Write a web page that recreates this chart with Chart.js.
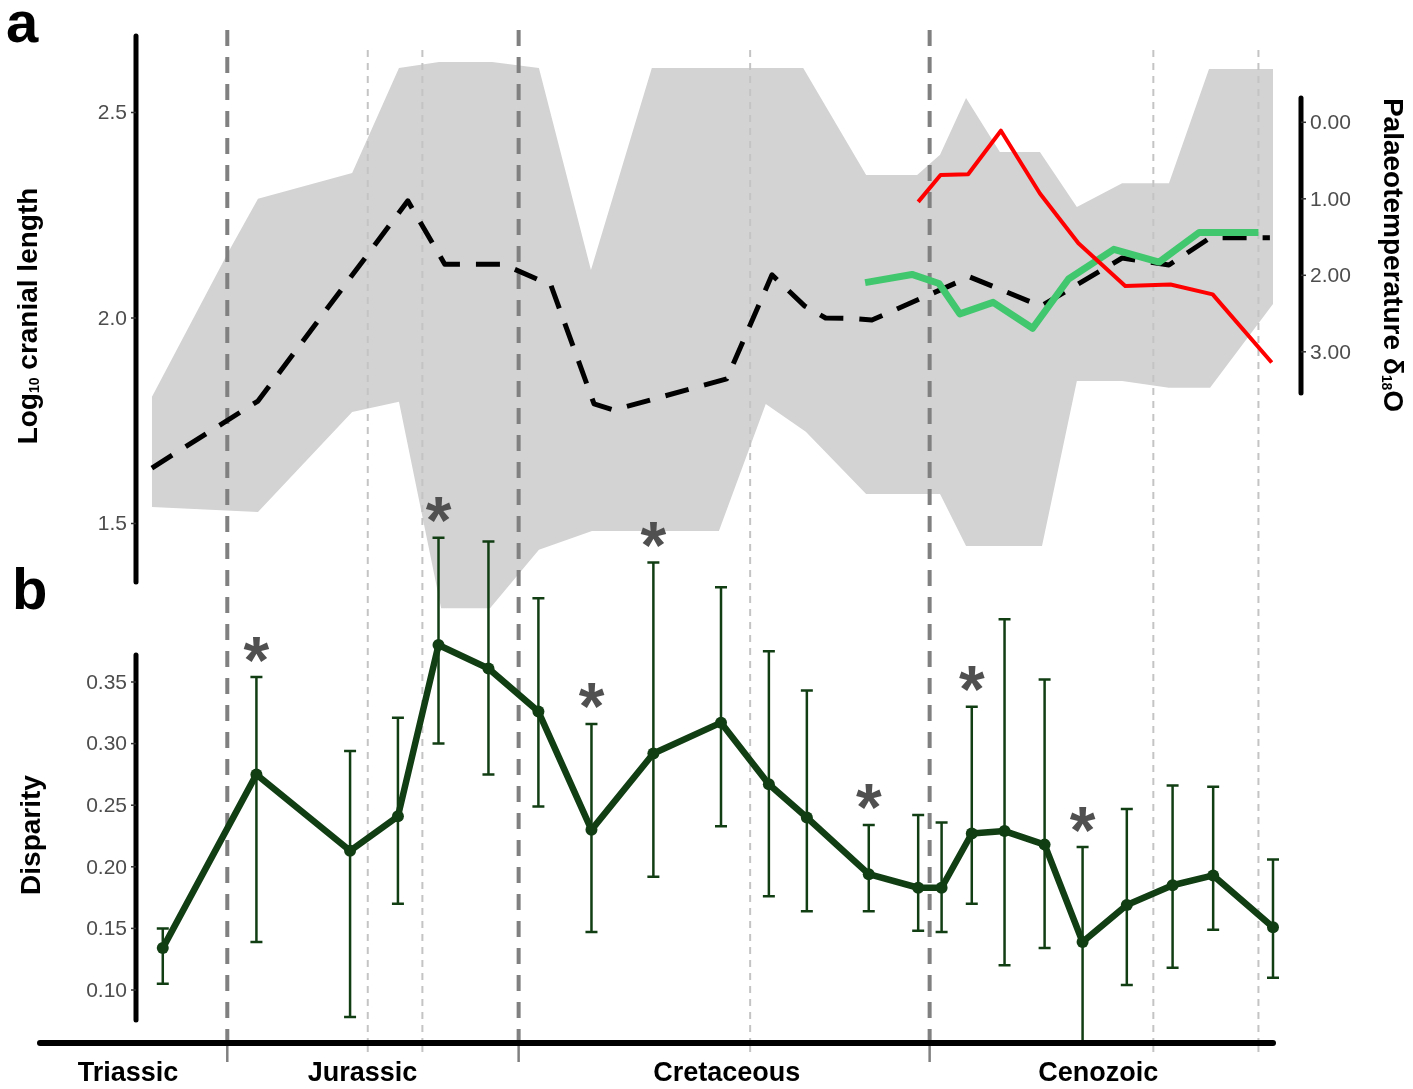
<!DOCTYPE html>
<html>
<head>
<meta charset="utf-8">
<title>Cranial length, palaeotemperature and disparity through time</title>
<script src="https://cdn.jsdelivr.net/npm/chart.js@4.4.1/dist/chart.umd.min.js"></script>
<style>
  html, body { margin: 0; padding: 0; background: #fff; }
  #wrap { width: 1413px; height: 1089px; }
</style>
</head>
<body>
<div id="wrap"><canvas id="fig" width="1413" height="1089"></canvas></div>
<script>
// ---- data, ages in Ma ----

// panel a: grey envelope of log10 cranial length
const bandUpperAge = [215.5, 200.9, 195.1, 177.0, 168.0, 160.3, 150.1, 141.1, 131.1, 119.4, 90.3, 78.2, 68.4, 64.0, 59.0, 52.5, 44.8, 37.7, 29.0, 20.0, 12.3, 0];
const bandUpperLen = [1.808, 2.158, 2.290, 2.353, 2.608, 2.623, 2.623, 2.608, 2.117, 2.608, 2.608, 2.348, 2.348, 2.397, 2.535, 2.404, 2.404, 2.270, 2.328, 2.328, 2.606, 2.606];
const bandLowerAge = [215.5, 195.1, 177.0, 168.0, 159.9, 150.5, 141.1, 130.9, 106.5, 97.5, 89.8, 78.2, 64.0, 59.0, 44.4, 37.7, 29.0, 20.0, 12.1, 0];
const bandLowerLen = [1.540, 1.528, 1.771, 1.796, 1.294, 1.294, 1.436, 1.482, 1.482, 1.791, 1.723, 1.572, 1.572, 1.445, 1.445, 1.847, 1.847, 1.830, 1.830, 2.034];

// panel a: mean cranial length (black dashed)
const meanAge = [215.5, 195.1, 166.3, 159.2, 148.0, 138.8, 130.5, 126.7, 105.0, 96.3, 90.0, 86.0, 81.2, 77.1, 58.3, 44.6, 29.0, 20.0, 12.1, 0.6];
const meanLen = [1.635, 1.798, 2.285, 2.131, 2.131, 2.080, 1.791, 1.776, 1.852, 2.105, 2.029, 2.000, 1.999, 1.995, 2.100, 2.029, 2.146, 2.129, 2.195, 2.195];

// panel a: Cenozoic subset (green)
const subsetAge = [78.4, 69.4, 64.2, 60.2, 53.8, 46.2, 39.3, 30.6, 21.9, 14.2, 2.8];
const subsetLen = [2.086, 2.106, 2.084, 2.010, 2.038, 1.975, 2.095, 2.167, 2.136, 2.208, 2.208];

// panel a: palaeotemperature d18O (red, right axis)
const tempAge = [68.2, 63.9, 58.6, 52.3, 44.8, 37.4, 28.4, 19.7, 11.6, 0.25];
const tempD18O = [1.04, 0.69, 0.68, 0.11, 0.93, 1.58, 2.14, 2.12, 2.25, 3.14];

// panel b: disparity with error bars, * = significant
const dispAge  = [213.4, 195.4, 177.4, 168.2, 160.4, 150.8, 141.2, 131.0, 119.1, 106.1, 96.9, 89.6, 77.7, 68.2, 63.7, 57.9, 51.6, 43.9, 36.6, 28.1, 19.3, 11.5, 0.0];
const dispMean = [0.134, 0.275, 0.213, 0.241, 0.380, 0.361, 0.326, 0.230, 0.292, 0.317, 0.267, 0.240, 0.194, 0.183, 0.183, 0.227, 0.229, 0.218, 0.139, 0.169, 0.185, 0.193, 0.151];
const dispLow  = [0.105, 0.139, 0.078, 0.170, 0.300, 0.275, 0.249, 0.147, 0.192, 0.233, 0.176, 0.164, 0.164, 0.148, 0.147, 0.170, 0.120, 0.134, 0.055, 0.104, 0.118, 0.149, 0.110];
const dispHigh = [0.150, 0.354, 0.294, 0.321, 0.467, 0.464, 0.418, 0.316, 0.447, 0.427, 0.375, 0.343, 0.234, 0.242, 0.236, 0.330, 0.401, 0.352, 0.216, 0.247, 0.266, 0.265, 0.206];
const dispStar = [false, true, false, false, true, false, false, true, true, false, false, false, true, false, false, true, false, false, true, false, false, false, false];

// axes
const lenTicks = [1.5, 2.0, 2.5];
const tempTicks = [0, 1, 2, 3];
const dispTicks = [0.10, 0.15, 0.20, 0.25, 0.30, 0.35];
const periodNames = ['Triassic', 'Jurassic', 'Cretaceous', 'Cenozoic'];
const periodMid = [220.1, 175.0, 105.0, 33.6];
const majorBounds = [201, 145, 66];
const minorBounds = [174, 163.5, 100.5, 23, 2.8];

const FONT = '"Liberation Sans", Arial, Helvetica, sans-serif';
const DARK_GREEN = '#123e14';

function pts(xs, ys) {
    return xs.map((x, i) => ({ x: x, y: ys[i] }));
}

// text with subscript runs, centred on (cx, cy), rotated by angle
function drawRich(ctx, runs, size, cx, cy, angle) {
    ctx.save();
    ctx.translate(cx, cy);
    ctx.rotate(angle);
    ctx.fillStyle = '#000';
    ctx.textAlign = 'left';
    ctx.textBaseline = 'alphabetic';
    const fontOf = r => `bold ${r.sub ? Math.round(size * 0.5) : size}px ${FONT}`;
    const widths = runs.map(r => { ctx.font = fontOf(r); return ctx.measureText(r.t).width; });
    let x = -widths.reduce((s, w) => s + w, 0) / 2;
    const base = size * 0.36;
    runs.forEach((r, i) => {
        ctx.font = fontOf(r);
        ctx.fillText(r.t, x, r.sub ? base + size * 0.08 : base);
        x += widths[i];
    });
    ctx.restore();
}

function axisLine(ctx, x0, y0, x1, y1, w) {
    ctx.save();
    ctx.strokeStyle = '#000';
    ctx.lineWidth = w;
    ctx.lineCap = 'round';
    ctx.beginPath();
    ctx.moveTo(x0, y0);
    ctx.lineTo(x1, y1);
    ctx.stroke();
    ctx.restore();
}

// y axis: line, ticks and labels (side = -1 left, +1 right)
function yAxis(ctx, scale, x, top, bottom, ticks, digits, side) {
    axisLine(ctx, x, top, x, bottom, 5);
    ctx.save();
    ctx.strokeStyle = '#333';
    ctx.lineWidth = 1.5;
    ctx.fillStyle = '#4d4d4d';
    ctx.font = `21px ${FONT}`;
    ctx.textBaseline = 'middle';
    ctx.textAlign = side < 0 ? 'right' : 'left';
    ticks.forEach(v => {
        const y = scale.getPixelForValue(v);
        ctx.beginPath();
        ctx.moveTo(x, y);
        ctx.lineTo(x + side * 5, y);
        ctx.stroke();
        ctx.fillText(v.toFixed(digits), x + side * 9, y + 1);
    });
    ctx.restore();
}

function drawBoundaries(chart) {
    const ctx = chart.ctx, xs = chart.scales.x, area = chart.chartArea;
    ctx.save();
    minorBounds.forEach(a => {
        const x = xs.getPixelForValue(a);
        ctx.strokeStyle = '#c4c4c4';
        ctx.lineWidth = 2;
        ctx.setLineDash([7, 6]);
        ctx.beginPath();
        ctx.moveTo(x, area.top + 30);
        ctx.lineTo(x, area.bottom);
        ctx.stroke();
        ctx.setLineDash([]);
        ctx.beginPath();
        ctx.moveTo(x, area.bottom);
        ctx.lineTo(x, area.bottom + 9);
        ctx.stroke();
    });
    majorBounds.forEach(a => {
        const x = xs.getPixelForValue(a);
        ctx.strokeStyle = '#808080';
        ctx.lineWidth = 4;
        ctx.setLineDash([16, 11]);
        ctx.beginPath();
        ctx.moveTo(x, area.top + 10);
        ctx.lineTo(x, area.bottom);
        ctx.stroke();
        ctx.setLineDash([]);
        ctx.lineWidth = 2.5;
        ctx.beginPath();
        ctx.moveTo(x, area.bottom);
        ctx.lineTo(x, area.bottom + 19);
        ctx.stroke();
    });
    ctx.restore();
}

function drawErrorBars(chart) {
    const ctx = chart.ctx, xs = chart.scales.x, ys = chart.scales.yD, area = chart.chartArea;
    ctx.save();
    ctx.beginPath();
    ctx.rect(area.left - 20, area.top, area.width + 40, area.height);
    ctx.clip();
    ctx.strokeStyle = DARK_GREEN;
    ctx.lineWidth = 2.5;
    dispAge.forEach((a, i) => {
        const x = xs.getPixelForValue(a);
        const y0 = ys.getPixelForValue(dispLow[i]);
        const y1 = ys.getPixelForValue(dispHigh[i]);
        ctx.beginPath();
        ctx.moveTo(x, y0); ctx.lineTo(x, y1);
        ctx.moveTo(x - 6, y0); ctx.lineTo(x + 6, y0);
        ctx.moveTo(x - 6, y1); ctx.lineTo(x + 6, y1);
        ctx.stroke();
    });
    ctx.restore();
}

function drawStars(chart) {
    const ctx = chart.ctx, xs = chart.scales.x, ys = chart.scales.yD;
    ctx.save();
    ctx.fillStyle = '#505050';
    ctx.font = `bold 66px ${FONT}`;
    ctx.textAlign = 'center';
    ctx.textBaseline = 'alphabetic';
    const m = ctx.measureText('*');
    const mid = (m.actualBoundingBoxDescent - m.actualBoundingBoxAscent) / 2;
    dispAge.forEach((a, i) => {
        if (!dispStar[i]) return;
        const x = xs.getPixelForValue(a);
        const y = ys.getPixelForValue(dispHigh[i]) - 28;
        ctx.fillText('*', x, y - mid);
    });
    ctx.restore();
}

function drawAxes(chart) {
    const ctx = chart.ctx, area = chart.chartArea, s = chart.scales;
    const leftX = area.left + 96;
    const rightX = area.right + 28;

    // time axis and period names
    axisLine(ctx, area.left, area.bottom, area.right, area.bottom, 6);
    ctx.save();
    ctx.fillStyle = '#000';
    ctx.font = `bold 27px ${FONT}`;
    ctx.textAlign = 'center';
    ctx.textBaseline = 'alphabetic';
    periodNames.forEach((p, i) => ctx.fillText(p, s.x.getPixelForValue(periodMid[i]), area.bottom + 38));
    ctx.restore();

    yAxis(ctx, s.yA, leftX, 36, 582, lenTicks, 1, -1);
    yAxis(ctx, s.yD, leftX, 655, 1020, dispTicks, 2, -1);
    yAxis(ctx, s.yT, rightX, 98, 393, tempTicks, 2, 1);

    drawRich(ctx, [{ t: 'Log' }, { t: '10', sub: true }, { t: ' cranial length' }], 28, 27, 316, -Math.PI / 2);
    drawRich(ctx, [{ t: 'Disparity' }], 28, 30, 835, -Math.PI / 2);
    drawRich(ctx, [{ t: 'Palaeotemperature \u03b4' }, { t: '18', sub: true }, { t: 'O' }], 28, 1394, 255, Math.PI / 2);

    // panel letters
    ctx.save();
    ctx.fillStyle = '#000';
    ctx.font = `bold 58px ${FONT}`;
    ctx.textAlign = 'left';
    ctx.textBaseline = 'alphabetic';
    ctx.fillText('a', 6, 42);
    ctx.fillText('b', 12, 609);
    ctx.restore();
}

const figurePlugin = {
    id: 'figure',
    afterDatasetDraw(chart, args) {
        if (args.index === 0) drawBoundaries(chart);
    },
    beforeDatasetDraw(chart, args) {
        if (args.index === 5) drawErrorBars(chart);
    },
    afterDraw(chart) {
        drawAxes(chart);
        drawStars(chart);
    }
};

const ctx = document.getElementById('fig').getContext('2d');
const chart = new Chart(ctx, {
    type: 'line',
    data: {
        datasets: [
            {   // 0: envelope top, filled down to the next dataset
                data: pts(bandUpperAge, bandUpperLen),
                yAxisID: 'yA',
                borderWidth: 0,
                pointRadius: 0,
                fill: '+1',
                backgroundColor: 'rgb(211,211,211)',
                order: 10
            },
            {   // 1: envelope bottom
                data: pts(bandLowerAge, bandLowerLen),
                yAxisID: 'yA',
                borderWidth: 0,
                pointRadius: 0,
                fill: false,
                order: 11
            },
            {   // 2: mean cranial length
                data: pts(meanAge, meanLen),
                yAxisID: 'yA',
                borderColor: '#000',
                borderWidth: 5,
                borderDash: [24, 16],
                pointRadius: 0,
                fill: false,
                order: 3
            },
            {   // 3: Cenozoic subset
                data: pts(subsetAge, subsetLen),
                yAxisID: 'yA',
                borderColor: '#41c86e',
                borderWidth: 7,
                pointRadius: 0,
                fill: false,
                order: 2
            },
            {   // 4: palaeotemperature
                data: pts(tempAge, tempD18O),
                yAxisID: 'yT',
                borderColor: '#ff0000',
                borderWidth: 4,
                pointRadius: 0,
                fill: false,
                order: 1
            },
            {   // 5: disparity
                data: pts(dispAge, dispMean),
                yAxisID: 'yD',
                borderColor: DARK_GREEN,
                borderWidth: 6.5,
                pointRadius: 6,
                pointBackgroundColor: DARK_GREEN,
                pointBorderWidth: 0,
                fill: false,
                clip: 20,
                order: 0
            }
        ]
    },
    options: {
        responsive: false,
        animation: false,
        events: [],
        layout: { padding: { left: 40, right: 140, top: 20, bottom: 46 } },
        elements: { line: { tension: 0, borderJoinStyle: 'round' } },
        scales: {
            x: { type: 'linear', min: 0, max: 237, reverse: true, display: false },
            yA: { type: 'linear', position: 'left', min: 0.23601, max: 2.72506, display: false },
            yT: { type: 'linear', position: 'right', min: -1.33725, max: 12.0353, reverse: true, display: false },
            yD: { type: 'linear', position: 'left', min: 0.05698, max: 0.88734, display: false }
        },
        plugins: {
            legend: { display: false },
            tooltip: { enabled: false }
        }
    },
    plugins: [figurePlugin]
});
</script>
</body>
</html>
